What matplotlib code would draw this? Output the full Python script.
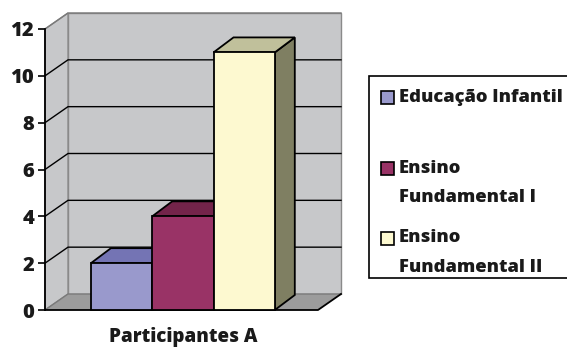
import matplotlib
matplotlib.use('Agg')
import matplotlib.pyplot as plt
from matplotlib.patches import Polygon, Rectangle

plt.rcParams['font.family'] = ['Open Sans', 'DejaVu Sans']
plt.rcParams['font.weight'] = 'heavy'

# data
categories = ['Educação Infantil', 'Ensino\nFundamental I', 'Ensino\nFundamental II']
values = [2, 4, 11]
group_label = 'Participantes A'
yticks = [0, 2, 4, 6, 8, 10, 12]

front_colors = ['#9999cc', '#993366', '#fdf9d0']
top_colors = ['#7474b4', '#73244a', '#c0c09b']
side_colors = ['#5c5c8f', '#5e1c3c', '#7f7f62']
wall_color = '#c7c8ca'
floor_color = '#9c9c9c'

W, H = 567, 347
fig = plt.figure(figsize=(W / 100, H / 100), dpi=100)
ax = fig.add_axes([45 / W, 37 / H, 273 / W, 281 / H])
ax.set_xlim(0, 1)
ax.set_ylim(0, 12)

# oblique depth of the box and of the bars (data units)
dx, dy = 23 / 273, 16 / 281 * 12
bdx, bdy = 20 / 273, 15 / 281 * 12
top = yticks[-1]

# walls and floor
back = Polygon([(dx, dy), (1 + dx, dy), (1 + dx, top + dy), (dx, top + dy)],
               closed=True, fc=wall_color, ec='#8a8a8a', lw=1, clip_on=False, zorder=1)
left = Polygon([(0, 0), (dx, dy), (dx, top + dy), (0, top)],
               closed=True, fc=wall_color, ec='#8a8a8a', lw=1, clip_on=False, zorder=1)
floor = Polygon([(0, 0), (1, 0), (1 + dx, dy), (dx, dy)],
                closed=True, fc=floor_color, ec='none', clip_on=False, zorder=1)
for p in (back, left, floor):
    ax.add_patch(p)

# gridlines on left and back walls
for v in yticks:
    c = 'black' if 0 < v < top else '#7a7a7a'
    ax.plot([0, dx, 1 + dx], [v, v + dy, v + dy], color=c, lw=1,
            clip_on=False, zorder=2)
# front and right edges of the floor
ax.plot([0, 1, 1 + dx], [0, 0, dy], color='black', lw=1.3, clip_on=False, zorder=2)

# bars
w = 0.2245
x0 = [0.505 + (i - len(values) / 2) * w for i in range(len(values))]
bars = ax.bar(x0, values, width=w, align='edge', color=front_colors,
              edgecolor='black', linewidth=1.3, clip_on=False)
for i, (b, x, v) in enumerate(zip(bars, x0, values)):
    z = 3 + i
    b.set_zorder(z + 0.5)
    side = Polygon([(x + w, 0), (x + w + bdx, bdy), (x + w + bdx, v + bdy), (x + w, v)],
                   closed=True, fc=side_colors[i], ec='black', lw=1.3, clip_on=False, zorder=z)
    cap = Polygon([(x, v), (x + w, v), (x + w + bdx, v + bdy), (x + bdx, v + bdy)],
                  closed=True, fc=top_colors[i], ec='black', lw=1.3, clip_on=False, zorder=z)
    ax.add_patch(side)
    ax.add_patch(cap)

# axes
for s in ('top', 'right', 'bottom'):
    ax.spines[s].set_visible(False)
ax.spines['left'].set_linewidth(1.3)
ax.spines['left'].set_zorder(2.5)
ax.set_yticks(yticks)
ax.tick_params(axis='y', length=5, width=1.2, pad=3, labelsize=14.5, labelcolor='#1a1a1a')
ax.set_xticks([0.505], [group_label])
ax.tick_params(axis='x', length=0, pad=12, labelsize=13.5, labelcolor='#1a1a1a')

# legend
fx = lambda px: px / W
fy = lambda py: 1 - py / H
fig.patches.append(Rectangle((fx(369), fy(278)), fx(210), 202 / H, transform=fig.transFigure,
                             fc='white', ec='black', lw=1.2))
marker_y = [97, 168, 238]
for lab, col, my in zip(categories, front_colors, marker_y):
    fig.patches.append(Rectangle((fx(381), fy(my + 6.5)), 13 / W, 13 / H,
                                 transform=fig.transFigure, fc=col, ec='black', lw=1.2))
    for k, line in enumerate(lab.split('\n')):
        fig.text(fx(399), fy(my + 30 * k), line, fontsize=13.2, fontweight='heavy',
                 va='center', ha='left', color='#1a1a1a')

fig.savefig('out.png', dpi=100)
